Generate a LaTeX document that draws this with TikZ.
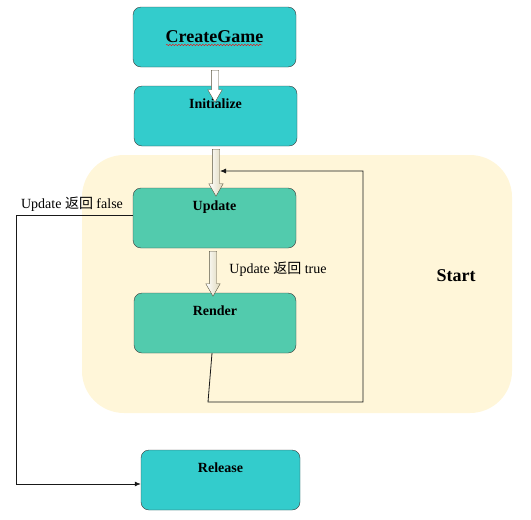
\documentclass[tikz,border=0pt]{standalone}
\usepackage{fontspec}
\setmainfont{Liberation Serif}
\newfontfamily\cjk{Noto Sans CJK SC}
\usetikzlibrary{shapes.arrows, arrows.meta, decorations.pathmorphing}

\definecolor{boxcyan}{RGB}{51,204,204}
\definecolor{boxgreen}{RGB}{82,203,173}
\definecolor{startbg}{RGB}{255,246,217}
\definecolor{boxline}{RGB}{60,60,60}
\definecolor{arrowline}{RGB}{90,85,64}
\definecolor{arrowfill}{RGB}{222,216,186}

\tikzset{
  stepbox/.style={draw=boxline, rounded corners=8pt, minimum width=163pt, minimum height=60pt,
    text height=10pt, text depth=26pt, font=\bfseries\fontsize{14}{16}\selectfont},
  blockarrow/.style={single arrow, draw=arrowline, single arrow head extend=3.5pt,
    single arrow tip angle=60, minimum width=14pt, inner sep=3.5pt, shape border rotate=270,
    left color=white, right color=arrowfill},
  flowline/.style={draw=black!90, line width=0.8pt},
  flowlabel/.style={font=\fontsize{14}{16}\selectfont}
}

\begin{document}
\begin{tikzpicture}[x=1pt, y=-1pt]
\useasboundingbox (0,0) rectangle (531,520);
\fill [startbg, rounded corners=42pt] (82,155) rectangle (512,413);
\node at (456,276) [font=\bfseries\fontsize{18}{20}\selectfont] {Start};

\node (create) at (214.5,37) [stepbox, fill=boxcyan, text height=, text depth=, font=\bfseries\fontsize{18}{20}\selectfont] {CreateGame};
\draw [red, decorate, decoration={snake, amplitude=0.7pt, segment length=3pt}] (166,45) -- (262,45);
\node (init) at (215.5,116) [stepbox, fill=boxcyan] {Initialize};
\node (update) at (214.5,218) [stepbox, fill=boxgreen] {Update};
\node (render) at (215,323) [stepbox, fill=boxgreen, minimum width=162pt] {Render};
\node (release) at (220.5,480) [stepbox, fill=boxcyan, minimum width=159pt] {Release};

\node (arrA) at (215,83) [blockarrow, minimum height=32pt, left color=white, right color=white] {};
\node (arrB) at (216,169.5) [blockarrow, minimum height=47pt] {};
\node (arrC) at (213,270.5) [blockarrow, minimum height=45pt] {};

% loop back to update
\coordinate (loopA) at (208,402);
\coordinate (loopB) at (363,402);
\coordinate (loopC) at (363,171);
\coordinate (loopEnd) at (220,171);
\draw [flowline, -{Latex[length=6pt, width=5pt]}] ([xshift=-3pt]render.south) -- (loopA) -- (loopB) -- (loopC) -- (loopEnd);

% exit to release
\coordinate (exitA) at (16,215);
\coordinate (exitB) at (16,484);
\draw [flowline, -{Latex[length=6pt, width=5pt]}] ([yshift=3pt]update.west) -- (exitA) -- (exitB) -- ([yshift=-4pt]release.west);

\node at (72,204) [flowlabel] {Update {\cjk 返回} false};
\node at (278,269) [flowlabel] {Update {\cjk 返回} true};
\end{tikzpicture}
\end{document}
